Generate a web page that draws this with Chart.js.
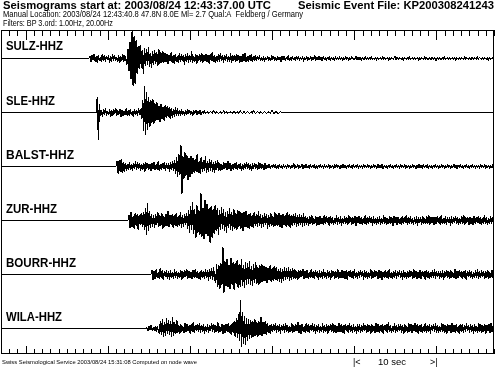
<!DOCTYPE html>
<html><head><meta charset="utf-8">
<script src="https://cdn.jsdelivr.net/npm/chart.js@4/dist/chart.umd.min.js"></script>
<style>
html,body{margin:0;padding:0;background:#fff;}
#wrap{position:relative;width:496px;height:368px;overflow:hidden;background:#fff;}
canvas{position:absolute;left:0;top:0;}
.t{position:absolute;white-space:nowrap;font-family:"Liberation Sans",Arial,sans-serif;color:#000;transform-origin:0 0;line-height:1;}
.b{font-weight:bold;}
</style></head><body>
<div id="wrap">
<canvas id="c" width="496" height="368"></canvas>
<div class="t b" id="h1a" style="left:3px;top:0px;font-size:11.5px">Seismograms start at: 2003/08/24 12:43:37.00 UTC</div>
<div class="t b" id="h1b" style="left:298px;top:0px;font-size:11.5px">Seismic Event File: KP200308241243</div>
<div class="t" id="h2" style="left:3px;top:10px;font-size:9px">Manual Location: 2003/08/24 12:43:40.8 47.8N 8.0E Ml= 2.7 Qual:A&nbsp; Feldberg / Germany</div>
<div class="t" id="h3" style="left:3px;top:19px;font-size:9px">Filters: BP 3.ord: 1.00Hz, 20.00Hz</div>
<div class="t" id="ft" style="left:2px;top:360px;font-size:5.5px">Swiss Seismological Service 2003/08/24 15:31:08 Computed on node wave</div>
<div class="t" id="s1" style="left:353px;top:358px;font-size:9px">|&lt;</div>
<div class="t" id="s2" style="left:378px;top:358px;font-size:9px">10 sec</div>
<div class="t" id="s3" style="left:430px;top:358px;font-size:9px">&gt;|</div>
</div>
<script>
// ---- data ----
const stations = ['SULZ-HHZ','SLE-HHZ','BALST-HHZ','ZUR-HHZ','BOURR-HHZ','WILA-HHZ'];
const onsetSec = [10.7, 11.6, 14.0, 15.45, 18.25, 17.64];   // seconds after 12:43:37.00
const sampleStep = 0.125;                                  // seconds between samples
const windowSec = [0, 60];
const secondTicks = [0,1,2,3,4,5,6,7,8,9,10,11,12,13,14,15,16,17,18,19,20,21,22,23,24,25,26,27,28,29,30,31,32,33,34,35,36,37,38,39,40,41,42,43,44,45,46,47,48,49,50,51,52,53,54,55,56,57,58,59,60];
const tenSecTicks = [3,13,23,33,43,53];

// amplitudes (screen-pixel units, up positive)
const sulz = [2,-3,3,-1,4,-3,2,-4,3,-2,1,-3,4,-2,3,-3,2,-1,3,-4,2,-3,4,-2,3,-2,1,-3,3,-4,2,-2,4,-3,3,-2,
 -6,9,-12,16,-20,26,-27,22,-25,18,-15,12,-10,
 13,-9,8,-15,10,-7,9,-6,11,-8,5,-9,7,-6,8,-5,6,-7,9,-5,6,-4,7,
 -4,5,-3,4,-5,3,-2,6,-4,3,-5,4,-3,2,-4,5,-3,4,-2,3,-6,4,-3,5,-4,3,-3,7,-4,2,-3,4,-5,3,-2,4,-3,5,-4,3,
 -2,4,-3,3,-5,4,-2,6,-3,3,-4,2,-3,4,-3,5,-2,3,-4,3,-2,4,-3,2,-3,5,-4,3,-2,3,-3,4,-2,3,-4,2,-3,4,-2,5,
 -3,2,-3,3,-2,4,-3,2,-2,3,
 -2,2,-1,3,-2,1,-2,2,-3,1,-1,2,-2,1,-2,3,-1,2,-2,1,-2,2,-1,1,-3,2,-1,2,-2,1,-1,3,-2,1,-2,2,-1,1,-2,2,
 -1,2,-2,1,-1,2,-3,1,-1,2,-2,1,-1,2,-2,1,-1,3,-2,1,-1,2,-1,1,-2,2,-1,1,-2,1,-1,2,-2,1,-1,1,-2,2,-1,1,
 -1,2,-1,1,-2,1,-1,2,-1,1,-2,1,-1,2,-1,0,-1,2,-1,1,-1,1,-2,1,0,-1,2,-1,1,-1,1,-1,2,-1,0,-1,1,-2,1,-1,
 0,1,-1,2,-1,1,-1,0,1,-2,1,-1,1,-1,0,2,-1,1,-1,0,1,-1,1,-2,1,0,-1,1,-1,2,-1,0,1,-1,1,-1,0,1,-2,1,
 -1,1,0,-1,2,-1,1,-1,0,1,-1,1,-1,0,1,-2,1,-1,1,0,-1,1,-1,2,-1,0,1,-1,1,-1,0,1,-1,1,-2,1,0,-1,1,-1,
 1,0,-1,2,-1,1,-1,0,1,-1,1,-1,0,1,-1,2,-1,1,0,-1,1,-1,1,0,-1,1,-2,1,-1,0,1,-1];
const sle = [15,-27,8,
 -3,2,-4,3,-2,4,-3,1,-2,3,-4,2,-3,3,-1,4,-3,2,-2,3,-4,2,-3,1,-2,4,-3,2,-3,3,-2,1,-4,3,-2,2,-3,4,-2,3,
 -6,12,-18,26,-22,20,-17,15,-14,12,-10,13,
 -11,9,-8,10,-7,6,-9,8,-6,5,-8,7,-5,6,-4,5,-6,4,-5,3,-4,5,-3,4,-3,
 2,-3,3,-2,1,-3,2,-2,3,-1,2,-2,1,-3,2,-1,2,-2,1,-1,2,-2,1,-1,2,
 -1,0,1,-1,0,1,0,-1,2,0,-1,1,0,-1,0,1,-1,0,2,-1,0,1,-1,0,0,1,-1,0,1,0,-1,1,0,-1,2,0,-1,0,1,-1,0,1,0,-1,0,
 1,-1,2,0,-1,0,1,0,-1,1,0,-1,0,1,0,-1,0,1,-1,0,2,0,-1,0,1,0,-1,0,1,0];
const balst = [5,-7,6,-5,7,-6,4,-5,
 3,-4,2,-3,4,-3,2,-4,3,-2,5,-3,4,-2,3,-4,2,-3,3,-5,4,-2,3,-3,2,-4,3,-2,4,-3,2,-3,5,-4,2,-3,3,-2,4,-4,3,-2,3,-5,4,-3,5,-4,6,
 -7,9,-10,12,-8,21,-27,10,-12,14,-9,11,-13,8,-10,10,-7,8,
 -6,7,-5,12,-6,5,-7,9,-5,6,-4,10,-6,5,-5,7,-4,6,-5,4,-6,5,-3,6,-4,
 3,-4,2,-3,4,-2,3,-3,5,-2,3,-4,2,-3,3,-2,4,-3,2,-2,3,-4,2,-3,3,-2,4,-2,3,-3,2,-4,3,-2,3,-2,2,-3,4,-2,3,-2,2,-3,3,
 -2,1,-1,2,-2,1,-1,2,-1,2,-2,1,-2,2,-1,1,-2,2,-1,1,-2,2,-1,1,-2,1,-1,3,-2,1,-1,2,-2,1,-1,2,-2,1,-1,2,
 -1,1,-2,2,-1,1,-1,2,-2,1,-2,1,-1,2,-1,1,-2,2,-1,1,-1,2,-2,1,-1,1,-2,2,-1,2,-1,1,-2,1,-1,2,-1,1,-2,1,
 -1,2,-1,1,-2,2,-1,1,-1,2,-2,1,-1,1,-2,2,-1,1,-1,2,-1,1,-2,1,-1,2,-1,1,-2,2,-1,1,-1,2,-2,1,-1,1,-2,1,
 -1,2,-1,1,-2,1,-1,2,-1,1,-2,2,-1,1,-1,2,-2,1,-1,1,-2,1,-1,2,-1,1,-2,1,-1,2,-1,1,-2,2,-1,1,-1,2,-2,1,
 -1,1,-2,1,-1,2,-1,1,-2,1,-1,2,-1,1,-2,1,-1,2,-1,1,-2,1,-1,2,-1,1,-2,1,-1,2,-1,1,-2,1,-1,2,-1,1,-2,1,
 -1,2,-1,1,-2,1,-1,1,-2,2,-1,1,-1,2,-2,1,-1,1,-2,1,-1,2,-1];
const zur = [5,-7,8,-6,4,-8,7,-5,6,-9,5,-4,7,-6,8,
 -9,12,-14,17,-10,9,-7,6,
 -6,5,-7,6,-4,8,-6,5,-5,7,-8,4,-6,6,-5,9,-6,5,-4,6,-7,5,-5,7,-6,4,-5,8,-7,5,-6,6,-4,7,-8,
 10,-12,14,-9,18,-13,11,-17,15,-12,10,-14,27,-16,12,-18,20,-13,16,-15,12,-22,14,-17,11,-13,15,-10,12,-14,
 10,-9,13,-8,11,-10,8,-12,9,-7,12,-9,8,-10,11,-8,7,-9,10,-6,9,-8,7,-10,8,-6,9,-7,6,-8,
 7,-6,5,-7,8,-5,6,-6,9,-5,6,-7,5,-6,7,-4,6,-8,5,-6,7,-5,4,-6,8,-5,6,-5,7,-6,5,-7,6,-4,5,-6,8,-5,6,-7,5,-5,6,-4,7,-6,5,-5,6,-4,5,-6,7,-5,4,
 -4,3,-5,4,-3,5,-4,2,-3,4,-5,3,-4,4,-3,2,-4,5,-3,4,-2,3,-5,4,-3,3,-4,2,-3,5,-4,3,-3,4,-5,2,-3,4,-3,3,
 -4,5,-2,3,-4,3,-3,4,-5,3,-2,4,-3,3,-4,2,-3,5,-4,3,-3,4,-2,3,-5,4,-3,2,-4,3,-3,4,-4,2,-3,5,-3,3,-4,2,
 -3,4,-3,3,-5,4,-2,3,-4,3,-3,2,-4,4,-3,3,-2,5,-4,3,-3,4,-3,2,-4,3,-3,4,-5,3,-2,3,-4,4,-3,2,-3,4,-3,5,
 -4,3,-2,3,-4,3,-3,4,-2,3,-4,5,-3,2,-3,4,-4,3,-2,3,-5,4,-3,3,-2,4,-3,3,-4,2,-3,4,-3,5,-4,3,-2,3,-4,3,
 -3,2,-4,4,-3,3,-2,4,-3,3,-4,2,-3,5,-3,3,-4,2,-3,4,-3,3,-2];
const bourr = [4,-5,3,-4,5,-3,2,-4,6,-3,4,-5,3,-2,4,-4,3,-5,4,-3,2,-4,5,-3,3,-4,2,-3,4,-5,3,-3,4,-2,5,-4,3,-3,2,-4,
 4,-3,5,-3,3,-4,2,-5,4,-3,3,-4,5,-3,4,-6,5,-4,6,-5,7,-6,
 -8,10,-12,9,-14,11,-10,27,-18,13,-11,15,-12,9,-14,16,-10,12,-15,11,-9,14,-13,10,-12,15,-11,9,-13,12,
 -10,11,-9,13,-10,8,-11,10,-8,12,-9,7,-10,9,-8,10,
 -7,8,-6,7,-8,6,-5,9,-7,6,-6,8,-5,7,-6,5,-7,6,-8,5,-6,7,-5,6,-4,7,-6,5,-5,6,-4,5,
 -4,3,-5,4,-3,4,-2,5,-4,3,-3,4,-4,2,-3,5,-3,3,-4,4,-2,3,-5,4,-3,3,-4,5,-3,2,-4,4,-3,3,-5,4,-2,3,-4,3,
 -3,5,-4,2,-3,4,-3,3,-4,4,-5,3,-2,4,-3,3,-4,5,-3,2,-4,3,-3,4,-2,3,-5,4,-3,3,-4,2,-3,5,-4,3,-3,4,-2,3,
 -4,4,-3,3,-5,2,-3,4,-3,3,-4,5,-3,2,-4,3,-3,4,-4,3,-2,4,-3,3,-5,4,-3,2,-4,3,-3,4,-2,3,-4,5,-3,3,-4,2,
 -3,4,-4,3,-2,3,-5,4,-3,3,-4,2,-3,4,-3,5,-4,3,-2,3,-4,3,-3,4,-5,3,-2,4,-3,3,-4,4,-3,2,-3,5,-4,3,-3,4,
 -2,3,-4,3,-3,4,-5,3,-2,4,-3,3,-4,2,-3,4,-3,5,-4,3,-3,4,-2,3,-4,3,-3,4,-4,2,-3,4,-3,3];
const wila = [1,-2,2,-1,3,-2,1,-2,2,-3,2,-2,
 -5,7,-6,9,-8,6,-7,10,-5,8,-6,7,-8,11,-7,6,-5,8,
 -4,3,-5,4,-3,2,-4,5,-3,4,-2,3,-5,4,-3,6,-4,3,-2,4,-3,5,-4,3,-3,4,-5,2,-3,4,-4,3,-2,5,-3,4,-4,3,-3,6,
 -4,2,-3,4,-5,3,-4,4,-3,5,-4,3,-6,5,-4,7,-8,
 10,-9,14,-12,28,-18,16,-15,12,-16,10,-12,9,
 -10,8,-9,7,-8,9,-7,6,-8,7,-6,11,-7,6,-5,7,-6,
 5,-4,3,-5,4,-3,4,-2,5,-4,3,-3,4,-5,3,-2,4,-4,5,-3,3,-4,2,-3,5,-4,3,-3,4,-2,6,-4,3,-5,4,-3,2,-4,5,-3,
 4,-4,3,-2,5,-3,4,-5,3,-3,4,-4,2,-3,5,-4,3,-3,4,-5,3,-2,4,-3,5,-4,3,-4,2,-3,5,-3,4,-4,3,-5,4,-2,3,-4,
 5,-3,3,-4,4,-3,2,-5,4,-3,4,-4,3,-3,5,-2,3,-4,4,-3,3,-5,4,-3,2,-4,5,-3,4,-4,3,-3,4,-5,3,-2,4,-4,6,-3,
 3,-4,2,-3,5,-4,3,-3,4,-2,4,-4,3,-5,4,-3,2,-4,5,-3,4,-4,3,-2,5,-3,4,-5,3,-3,4,-4,2,-3,5,-4,3,-3,4,-5,
 3,-2,4,-3,5,-4,3,-4,2,-3,5,-3,4,-4,3,-5,4,-2,3,-4,5,-3,3,-4,4,-3,2,-5,4,-3,4,-4,3,-3,5,-2,3,-4,4,-3,
 3,-5,4,-3,2,-4,5,-3,4,-4,3,-3,4,-5,3,-2,4,-4,5,-3,3,-4];
const traces = [sulz, sle, balst, zur, bourr, wila];

// ---- build ----
const PX_PER_TRACE = 54;   // vertical spacing of traces, also amplitude scale
const datasets = traces.map((amps, i) => {
  const pts = [{x: windowSec[0], y: -i}, {x: onsetSec[i], y: -i}];
  amps.forEach((a, k) => pts.push({x: onsetSec[i] + (k + 1) * sampleStep, y: -i + a / PX_PER_TRACE}));
  const last = onsetSec[i] + amps.length * sampleStep;
  if (last < windowSec[1]) pts.push({x: last + sampleStep, y: -i}, {x: windowSec[1], y: -i});
  return {label: stations[i], data: pts, borderColor: '#000', borderWidth: 1,
          pointRadius: 0, tension: 0, fill: false};
});

const frame = {
  id: 'frame',
  afterDraw(chart) {
    const {ctx, chartArea: a, scales: {x}} = chart;
    ctx.save();
    ctx.strokeStyle = '#000'; ctx.lineWidth = 1;
    ctx.beginPath();
    ctx.moveTo(a.left + 0.5, a.top + 0.5); ctx.lineTo(a.right - 0.5, a.top + 0.5);
    ctx.moveTo(a.left + 0.5, a.top); ctx.lineTo(a.left + 0.5, a.bottom);
    ctx.moveTo(a.right - 0.5, a.top); ctx.lineTo(a.right - 0.5, a.bottom);
    ctx.moveTo(a.left, a.bottom - 0.5); ctx.lineTo(a.right, a.bottom - 0.5);
    secondTicks.forEach(s => {
      const major = tenSecTicks.includes(s);
      const px = Math.round(x.getPixelForValue(s)) + 0.5;
      ctx.moveTo(px, a.top); ctx.lineTo(px, a.top + (major ? 10 : 6));
      ctx.moveTo(px, a.bottom); ctx.lineTo(px, a.bottom - (major ? 8 : 5));
    });
    ctx.stroke();
    ctx.restore();
    // render as a crisp black/white plot, like the printed seismogram
    const w = chart.canvas.width, h = chart.canvas.height;
    const img = ctx.getImageData(0, 0, w, h), d = img.data;
    for (let p = 0; p < d.length; p += 4) {
      const on = d[p + 3] > 95;
      d[p] = d[p + 1] = d[p + 2] = 0;
      d[p + 3] = on ? 255 : 0;
    }
    ctx.putImageData(img, 0, 0);
  }
};

const yTop = 28.5 / PX_PER_TRACE;
const chart = new Chart(document.getElementById('c'), {
  type: 'line',
  data: {datasets},
  options: {
    responsive: false, animation: false, devicePixelRatio: 1,
    parsing: false, normalized: true,
    layout: {padding: {left: 1, right: 2, top: 30, bottom: 14}},
    plugins: {legend: {display: false}, tooltip: {enabled: false}},
    scales: {
      x: {type: 'linear', min: windowSec[0], max: windowSec[1], display: false},
      y: {type: 'linear', min: yTop - 324 / PX_PER_TRACE, max: yTop, display: false}
    }
  },
  plugins: [frame]
});

// station labels as real text, placed from the y scale
const wrap = document.getElementById('wrap');
const labelWidths = [57, 49, 68, 51, 70, 56];
stations.forEach((s, i) => {
  const d = document.createElement('div');
  d.className = 't b'; d.textContent = s;
  d.style.fontSize = '12px';
  d.style.left = '6px';
  d.style.top = Math.round(chart.scales.y.getPixelForValue(-i) - 18) + 'px';
  wrap.appendChild(d);
  d.dataset.w = labelWidths[i];
});
function fit(el, w) {
  const cur = el.getBoundingClientRect().width;
  if (cur > 0) el.style.transform = 'scaleX(' + (w / cur) + ')';
}
fit(document.getElementById('h1a'), 268);
fit(document.getElementById('h1b'), 196);
fit(document.getElementById('h2'), 300);
fit(document.getElementById('h3'), 110);
fit(document.getElementById('ft'), 195);
fit(document.getElementById('s2'), 28);
document.querySelectorAll('[data-w]').forEach(el => fit(el, +el.dataset.w));
</script>
</body></html>
